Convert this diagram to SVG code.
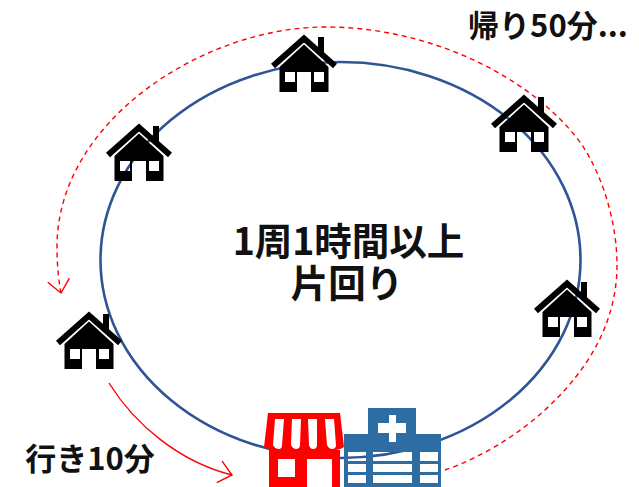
<svg xmlns="http://www.w3.org/2000/svg" width="639" height="487" viewBox="0 0 639 487">
<style>
.t{font-family:"Noto Sans CJK JP","Noto Sans",sans-serif;font-weight:700;fill:#111}
.r{fill:none;stroke:#ff0000;stroke-width:1.4}
</style>
<defs>
<marker id="a" markerWidth="24" markerHeight="24" refX="20" refY="12" orient="auto" markerUnits="userSpaceOnUse"><path d="M7 1L20 12L7 23" fill="none" stroke="#ff0000" stroke-width="1.4"/></marker>
<g id="h">
<path d="M-31 32L0 4.5L31 32" fill="none" stroke="#000" stroke-width="6"/>
<path d="M14 3H20V21L14 15Z" fill="#000"/>
<path fill-rule="evenodd" fill="#000" d="M0 10.500L24.500 33V58H7V38H-7V58H-24.500V33ZM-19 38V48H-9V38ZM10 38V48H20V38Z"/>
</g>
</defs>
<g id="connectors">
<ellipse cx="340.500" cy="260" rx="240" ry="198" fill="none" stroke="#2f5597" stroke-width="2.600"/>
<path class="r" stroke-dasharray="5 4" marker-end="url(#a)" d="M445 470C480 458 545 425 588 360C606 332 617 300 617 265C617 225 604 178 582 145C540 85 440 27 325 27C205 27 57 120 57 247Q57 272 61 293"/>
<path class="r" marker-end="url(#a)" d="M109 383C135 425 180 462 232 475"/>
</g>
<g id="house1"><use href="#h" x="304" y="34"/></g>
<g id="house2"><use href="#h" x="524" y="94"/></g>
<g id="house3"><use href="#h" x="567" y="279"/></g>
<g id="house4"><use href="#h" x="89" y="311"/></g>
<g id="house5"><use href="#h" x="139" y="123"/></g>
<g id="store">
<path fill="#ff0000" fill-rule="evenodd" d="M268 413H340L344 447Q340 450 336 450H340V487H269V450H272Q268 450 264 447ZM275 419L273 445Q275 449 279 449Q282 449 282 445L284 419ZM292 419L291 445Q293 449 296 449Q300 449 300 445L301 419ZM308 419L309 445Q310 449 313 449Q317 449 317 445L317 419ZM325 419L327 445Q329 449 332 449Q336 449 336 445L334 419ZM278 459V477H295V459ZM307 459V487H332V459Z"/>
</g>
<g id="hospital">
<path fill="#2e6da4" fill-rule="evenodd" d="M368 408H416V434H441V487H344V434H368ZM389 415V423H378V433H389V442H396V433H406V423H396V415ZM348 452V461H366V452ZM373 452V461H412V452ZM420 452V461H438V452ZM348 464V472H366V464ZM373 464V472H412V464ZM420 464V472H438V464ZM348 475V483H366V475ZM373 475V483H412V475ZM420 475V483H438V475Z"/>
</g>
<g id="labels">
<text class="t" x="348.500" y="255" font-size="37.500" text-anchor="middle">1周1時間以上</text>
<text class="t" x="347" y="297" font-size="37.500" text-anchor="middle">片回り</text>
<text class="t" x="90" y="470" font-size="31" text-anchor="middle">行き10分</text>
<text class="t" x="548" y="37" font-size="31" text-anchor="middle">帰り50分...</text>
</g>
</svg>
